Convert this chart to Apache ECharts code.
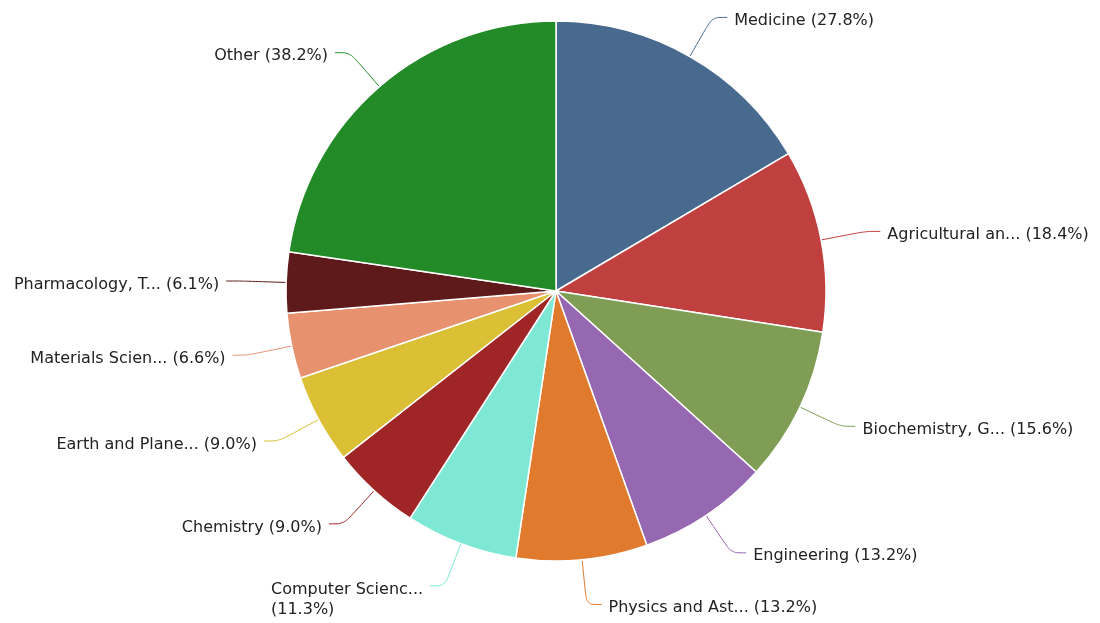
<!DOCTYPE html>
<html>
<head>
<meta charset="utf-8">
<script src="https://cdn.jsdelivr.net/npm/echarts@6/dist/echarts.min.js"></script>
<style>
html,body{margin:0;padding:0;background:#fff;}
#chart{width:1100px;height:623px;}
</style>
</head>
<body>
<div id="chart"></div>
<script>
const categories = [
  "Medicine",
  "Agricultural and Biological Sciences",
  "Biochemistry, Genetics and Molecular Biology",
  "Engineering",
  "Physics and Astronomy",
  "Computer Science",
  "Chemistry",
  "Earth and Planetary Sciences",
  "Materials Science",
  "Pharmacology, Toxicology and Pharmaceutics",
  "Other"
];
const values = [27.8, 18.4, 15.6, 13.2, 13.2, 11.3, 9.0, 9.0, 6.6, 6.1, 38.2];
const colors = ["#486a8f", "#c0403f", "#7f9d54", "#9668b1", "#e07b2e", "#7fe8d4", "#a02526", "#dbbf34", "#e8916f", "#5e1a1a", "#238a28"];

function shortName(n) {
  return n.length > 15 ? n.slice(0, 15) + "..." : n;
}

const data = categories.map((c, i) => {
  const d = {
    name: c,
    value: values[i],
    itemStyle: { color: colors[i] },
    labelLine: { lineStyle: { color: colors[i] } }
  };
  if (c === 'Computer Science') d.label = { padding: [28, 0, 0, 0] };
  return d;
});

const chart = echarts.init(document.getElementById('chart'), null, { renderer: 'canvas' });
chart.setOption({
  animation: false,
  backgroundColor: '#fff',
  series: [{
    type: 'pie',
    center: [556, 291],
    radius: 270,
    startAngle: 90,
    clockwise: true,
    data: data,
    itemStyle: { borderColor: '#fff', borderWidth: 1.5 },
    label: {
      show: true,
      position: 'outside',
      color: '#222',
      fontFamily: 'DejaVu Sans',
      fontSize: 16,
      lineHeight: 20,
      padding: [7, 0, 0, 0],
      distanceToLabelLine: 7,
      formatter: p => {
        const s = shortName(p.name);
        const v = p.value.toFixed(1) + '%';
        return p.name === 'Computer Science'
          ? '{w|' + s + '}\n{w|(' + v + ')}'
          : s + ' (' + v + ')';
      },
      rich: {
        w: { width: 152, align: 'left', color: '#222', fontFamily: 'DejaVu Sans', fontSize: 16, lineHeight: 20 }
      }
    },
    labelLine: {
      show: true,
      length: 45,
      length2: 15,
      smooth: 0.3,
      lineStyle: { width: 1 }
    }
  }]
});
</script>
</body>
</html>
